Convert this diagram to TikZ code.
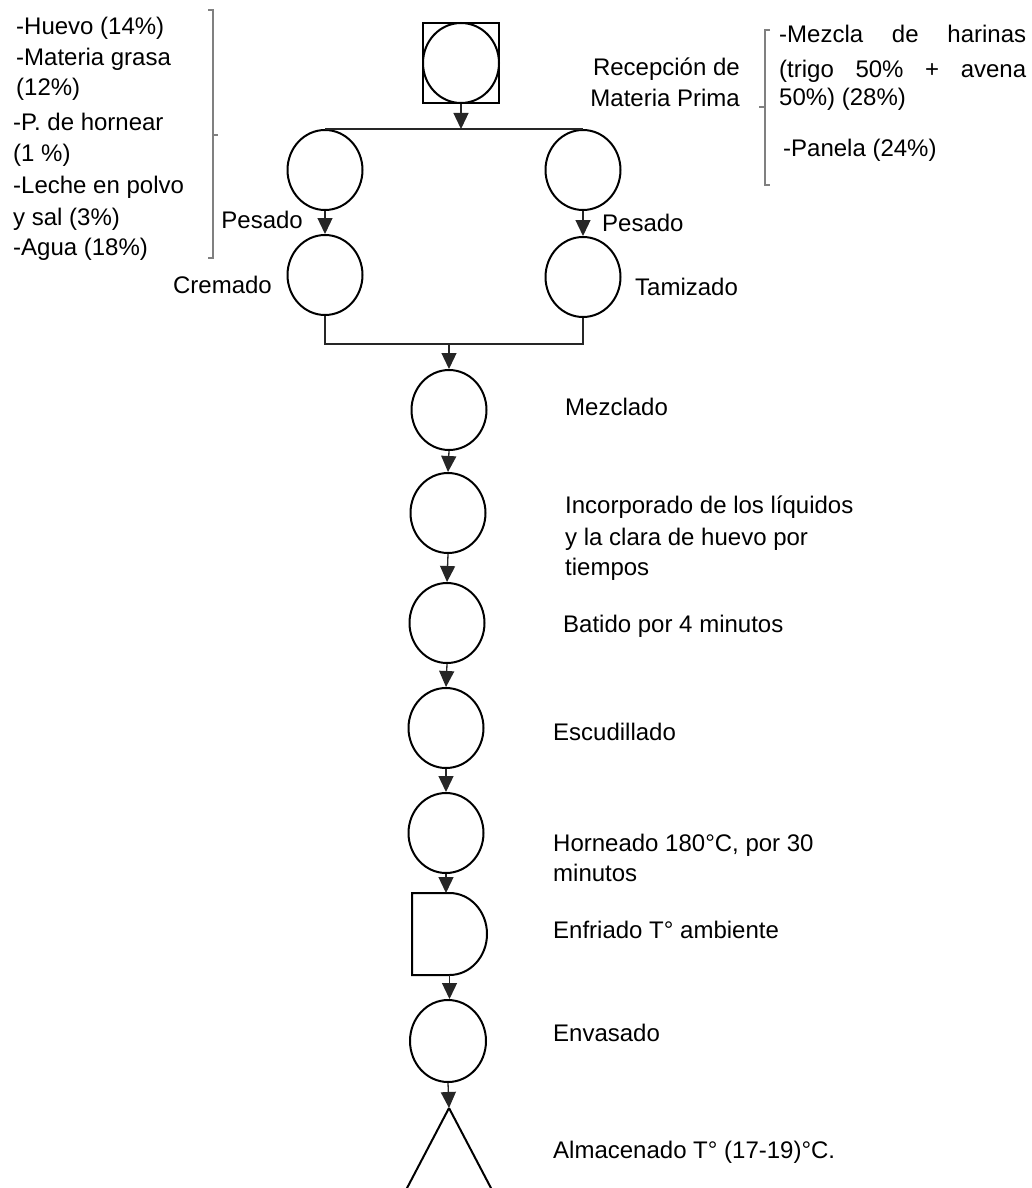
\documentclass[tikz,border=0pt]{standalone}
\usepackage{fontspec}
\setmainfont{Liberation Sans}
\usetikzlibrary{shapes.geometric,arrows.meta}
\begin{document}
\begin{tikzpicture}[x=1pt,y=-1pt,
  proc/.style={ellipse,draw,line width=2,minimum width=75,minimum height=80,inner sep=0},
  conn/.style={draw=black!85,line width=1.3},
  arr/.style={conn,-{Triangle[length=16,width=15]}},
  brk/.style={draw=black!50,line width=1.5},
  txt/.style={anchor=base west,inner sep=0,font=\fontsize{24}{28}\selectfont},
  txtr/.style={anchor=base east,inner sep=0,font=\fontsize{24}{28}\selectfont}]
\fill[white] (0,0) rectangle (1032,1188);
\useasboundingbox (0,0) rectangle (1032,1188);
\begin{scope}
\clip (0,0) rectangle (1032,1188);
% top: reception
\node[draw,line width=2,minimum width=76,minimum height=80,inner sep=0] (rec) at (461,63) {};
\node[proc,minimum width=76] (recE) at (461,63) {};
% left and right branches
\node[proc] (pesL) at (325,170) {};
\node[proc] (crem) at (325,275) {};
\node[proc] (pesR) at (583,170) {};
\node[proc] (tam) at (583,277) {};
\coordinate (mrg) at (449,344);
% main column
\node[proc] (mez) at (449,410) {};
\node[proc] (inc) at (448,513) {};
\node[proc] (bat) at (447,623) {};
\node[proc] (esc) at (446,728) {};
\node[proc] (hor) at (446,833) {};
\node[minimum width=75,minimum height=82,inner sep=0,outer sep=0] (enf) at (449.5,934) {};
\draw[line width=2] (enf.north) -- (enf.north west) -- (enf.south west) -- (enf.south)
  arc[start angle=90,end angle=-90,x radius=37.5,y radius=41];
\node[proc,minimum width=76,minimum height=82] (env) at (448,1041) {};
\coordinate (alm) at (449,1108);
\draw[line width=2] (alm) -- ++(-43,82) (alm) -- ++(43,82);
% connectors
\draw[arr] (rec.south) -- (rec.south |- pesL.north);
\draw[conn] (pesL.north) -- (pesR.north);
\draw[arr] (pesL.south) -- (crem.north);
\draw[arr] (pesR.south) -- (tam.north);
\draw[conn] (crem.south) |- (mrg) -| (tam.south);
\draw[arr] (mrg) -- (mez.north);
\draw[arr] (mez.south) -- (inc.north);
\draw[arr] (inc.south) -- (bat.north);
\draw[arr] (bat.south) -- (esc.north);
\draw[arr] (esc.south) -- (hor.north);
\draw[arr] (hor.south) -- (hor.south |- enf.north);
\draw[arr] (enf.south) -- (enf.south |- env.north);
\draw[arr] (env.south) -- (alm);
\end{scope}
% brackets
\draw[brk] (208,10) -- (213,10) -- (213,258) -- (208,258) (213,135) -- (218,135);
\draw[brk] (770,30) -- (765,30) -- (765,185) -- (770,185) (765,107) -- (759,107);
% left ingredient list
\node[txt] (t1) at (16,35) {-Huevo (14\%)};
\node[txt] (t2) at (16,66) {-Materia grasa};
\node[txt] (t3) at (16,96) {(12\%)};
\node[txt] (t4) at (13,131) {-P. de hornear};
\node[txt] (t5) at (13,161) {(1 \%)};
\node[txt] (t6) at (13,193) {-Leche en polvo};
\node[txt] (t7) at (13,225) {y sal (3\%)};
\node[txt] (t8) at (13,255) {-Agua (18\%)};
% right ingredient list
\node[txt] (r1) at (779,43) {\makebox[247pt][s]{-Mezcla de harinas}};
\node[txt] (r2) at (779,78) {\makebox[247pt][s]{(trigo 50\% + avena}};
\node[txt] (r3) at (779,106) {50\%) (28\%)};
\node[txt] (r4) at (783,156) {-Panela (24\%)};
\node[txtr] (lrec1) at (740,76) {Recepción de};
\node[txtr] (lrec2) at (740,107) {Materia Prima};
% branch labels
\node[txtr] (lpesL) at (303,228) {Pesado};
\node[txtr] (lcrem) at (272,293) {Cremado};
\node[txt] (lpesR) at (602,231) {Pesado};
\node[txt] (ltam) at (635,295) {Tamizado};
% main labels
\node[txt] (lmez) at (565,415) {Mezclado};
\node[txt] (linc1) at (565,513) {Incorporado de los líquidos};
\node[txt] (linc2) at (565,545) {y la clara de huevo por};
\node[txt] (linc3) at (565,575) {tiempos};
\node[txt] (lbat) at (563,632) {Batido por 4 minutos};
\node[txt] (lesc) at (553,740) {Escudillado};
\node[txt] (lhor1) at (553,851) {Horneado 180°C, por 30};
\node[txt] (lhor2) at (553,881) {minutos};
\node[txt] (lenf) at (553,938) {Enfriado T° ambiente};
\node[txt] (lenv) at (553,1041) {Envasado};
\node[txt] (lalm) at (553,1158) {Almacenado T° (17-19)°C.};
\end{tikzpicture}
\end{document}
